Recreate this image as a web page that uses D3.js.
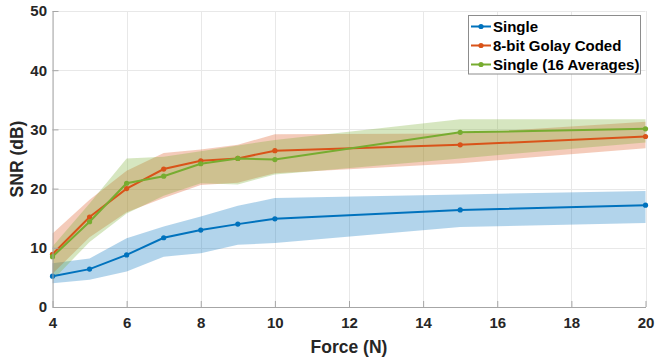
<!DOCTYPE html>
<html>
<head>
<meta charset="utf-8">
<script src="https://cdn.jsdelivr.net/npm/d3@7"></script>
<style>
    body { margin: 0; background: #fff; }
    svg { display: block; font-family: 'Liberation Sans', Arial, sans-serif; }
    .tick text { font-size: 15px; font-weight: bold; fill: #262626; }
</style>
</head>
<body>
<svg id="chart" width="655" height="360"></svg>
<script>
// force values (N)
const force = [4, 5, 6, 7, 8, 9, 10, 15, 20];

// SNR mean and band edges (dB)
const singleMean = [5.2, 6.4, 8.8, 11.7, 13.0, 14.0, 14.9, 16.4, 17.2];
const singleLo = [4.0, 4.6, 6.0, 8.5, 9.1, 10.5, 10.8, 13.5, 14.2];
const singleHi = [7.4, 8.2, 11.6, 13.6, 15.3, 17.1, 18.4, 19.0, 19.6];

const golayMean = [8.9, 15.2, 20.0, 23.3, 24.7, 25.1, 26.4, 27.4, 28.8];
const golayLo = [5.6, 11.8, 16.0, 18.4, 20.6, 21.0, 22.6, 24.3, 26.8];
const golayHi = [12.4, 18.1, 23.0, 26.0, 26.6, 27.4, 29.2, 29.3, 31.3];

const avgMean = [8.5, 14.4, 20.9, 22.1, 24.2, 25.1, 24.9, 29.5, 30.1];
const avgLo = [4.5, 11.0, 15.8, 18.8, 20.9, 20.7, 22.4, 25.1, 27.8];
const avgHi = [10.2, 17.5, 25.1, 25.4, 26.3, 27.3, 28.2, 31.7, 31.7];

const seriesNames = ['Single', '8-bit Golay Coded', 'Single (16 Averages)'];
const xTicks = [4, 6, 8, 10, 12, 14, 16, 18, 20];
const yTicks = [0, 10, 20, 30, 40, 50];

const colors = ['#0072BD', '#D95319', '#77AC30'];

const series = [
    { name: seriesNames[0], mean: singleMean, lo: singleLo, hi: singleHi, color: colors[0] },
    { name: seriesNames[1], mean: golayMean, lo: golayLo, hi: golayHi, color: colors[1] },
    { name: seriesNames[2], mean: avgMean, lo: avgLo, hi: avgHi, color: colors[2] }
];

const svg = d3.select('#chart');
const plotLeft = 52.5, plotRight = 645.5, plotTop = 11, plotBottom = 307;

const x = d3.scaleLinear().domain([4, 20]).range([plotLeft, plotRight]);
const y = d3.scaleLinear().domain([0, 50]).range([plotBottom, plotTop]);

// grid
const grid = svg.append('g').attr('stroke', '#e8e8e8').attr('stroke-width', 1);
grid.selectAll('.gx').data(xTicks).enter().append('line')
    .attr('x1', d => Math.round(x(d)) + 0.5).attr('x2', d => Math.round(x(d)) + 0.5)
    .attr('y1', plotTop).attr('y2', plotBottom);
grid.selectAll('.gy').data(yTicks).enter().append('line')
    .attr('y1', d => Math.round(y(d)) + 0.5).attr('y2', d => Math.round(y(d)) + 0.5)
    .attr('x1', plotLeft).attr('x2', plotRight);

const area = d3.area()
    .x((d, i) => x(force[i]))
    .y0(d => y(d[0]))
    .y1(d => y(d[1]));

const line = d3.line()
    .x((d, i) => x(force[i]))
    .y(d => y(d));

series.forEach(s => {
    svg.append('path')
        .datum(s.lo.map((v, i) => [v, s.hi[i]]))
        .attr('d', area)
        .attr('fill', s.color)
        .attr('fill-opacity', 0.3);
});

series.forEach(s => {
    svg.append('path')
        .datum(s.mean)
        .attr('d', line)
        .attr('fill', 'none')
        .attr('stroke', s.color)
        .attr('stroke-width', 2);

    svg.append('g').selectAll('circle').data(s.mean).enter().append('circle')
        .attr('cx', (d, i) => x(force[i]))
        .attr('cy', d => y(d))
        .attr('r', 2.6)
        .attr('fill', s.color);
});

// axes, ticks pointing inward like matlab
const xAxis = svg.append('g')
    .attr('transform', 'translate(0,' + plotBottom + ')')
    .call(d3.axisBottom(x).tickValues(xTicks).tickSize(-6).tickSizeOuter(0).tickPadding(10.5));
const yAxis = svg.append('g')
    .attr('transform', 'translate(' + plotLeft + ',0)')
    .call(d3.axisLeft(y).tickValues(yTicks).tickSize(-6).tickSizeOuter(0).tickPadding(5.5));

[xAxis, yAxis].forEach(a => {
    a.select('.domain').attr('stroke', '#a6a6a6');
    a.selectAll('.tick line').attr('stroke', '#a6a6a6');
});

svg.append('text')
    .attr('x', (plotLeft + plotRight) / 2)
    .attr('y', 352.5)
    .attr('text-anchor', 'middle')
    .attr('font-size', '17.5px')
    .attr('font-weight', 'bold')
    .attr('fill', '#262626')
    .text('Force (N)');

svg.append('text')
    .attr('transform', 'translate(23.3,' + ((plotTop + plotBottom) / 2) + ') rotate(-90)')
    .attr('text-anchor', 'middle')
    .attr('font-size', '17.5px')
    .attr('font-weight', 'bold')
    .attr('fill', '#262626')
    .text('SNR (dB)');

// legend
const legend = svg.append('g');
legend.append('rect')
    .attr('x', 468.5).attr('y', 15.5)
    .attr('width', 172).attr('height', 58.5)
    .attr('fill', '#fff')
    .attr('stroke', '#8c8c8c');

const entry = legend.selectAll('.entry').data(series).enter().append('g')
    .attr('transform', (d, i) => 'translate(0,' + (26.5 + i * 19) + ')');
entry.append('line')
    .attr('x1', 471).attr('x2', 491)
    .attr('stroke', d => d.color).attr('stroke-width', 2);
entry.append('circle')
    .attr('cx', 481).attr('r', 2.6)
    .attr('fill', d => d.color);
entry.append('text')
    .attr('x', 493).attr('y', 5.5)
    .attr('font-size', '15px')
    .attr('font-weight', 'bold')
    .attr('fill', '#000')
    .text(d => d.name);
</script>
</body>
</html>
